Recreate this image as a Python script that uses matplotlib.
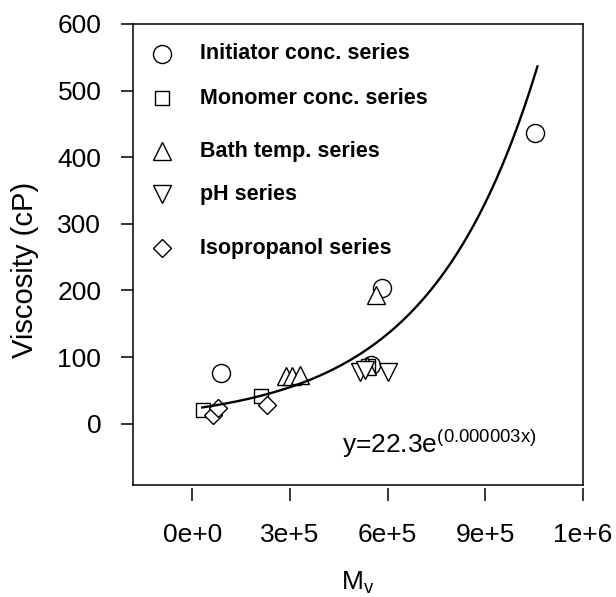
import numpy as np
import matplotlib
matplotlib.use('Agg')
import matplotlib.pyplot as plt

plt.rcParams.update({
    'font.family': ['Liberation Sans', 'DejaVu Sans'],
    'mathtext.fontset': 'custom',
    'mathtext.rm': 'Liberation Sans',
})

# ── data ──
init_x = [8.8e4, 5.5e5, 5.82e5, 1.052e6]
init_y = [76, 88, 203, 436]
mono_x = [3.3e4, 2.1e5, 5.4e5]
mono_y = [21, 41, 86]
bath_x = [2.88e5, 3.05e5, 3.32e5, 5.35e5, 5.63e5]
bath_y = [71, 72, 73, 86, 193]
ph_x = [5.15e5, 5.3e5, 6.0e5]
ph_y = [78, 81, 78]
iso_x = [6.2e4, 7.8e4, 2.28e5]
iso_y = [13, 24, 28]

# exponential fit shown on the chart
FIT_A, FIT_B = 22.3, 0.000003
FIT_RANGE = (3e4, 1.06e6)

series = [
    ('Initiator conc. series', init_x, init_y, 'o', 13),
    ('Monomer conc. series', mono_x, mono_y, 's', 10.5),
    ('Bath temp. series', bath_x, bath_y, '^', 13),
    ('pH series', ph_x, ph_y, 'v', 13),
    ('Isopropanol series', iso_x, iso_y, 'D', 9.5),
]
legend_rows = [0.935, 0.839, 0.724, 0.631, 0.514]

xticks = [0, 3e5, 6e5, 9e5, 1.2e6]
xticklabels = ['0e+0', '3e+5', '6e+5', '9e+5', '1e+6']
yticks = [0, 100, 200, 300, 400, 500, 600]

fig = plt.figure(figsize=(6.16, 5.97), dpi=100)
ax = fig.add_axes([0.2164, 0.1876, 0.7300, 0.7722])

for label, xs, ys, mk, ms in series:
    ax.plot(xs, ys, linestyle='none', marker=mk, markersize=ms,
            markerfacecolor='white', markeredgecolor='black',
            markeredgewidth=1.0, zorder=3)

xf = np.linspace(*FIT_RANGE, 300)
ax.plot(xf, FIT_A * np.exp(FIT_B * xf), color='black', lw=1.7, zorder=4)

# hand-placed legend (uneven row spacing in the original)
for (label, _, _, mk, ms), yr in zip(series, legend_rows):
    ax.plot([0.063], [yr], transform=ax.transAxes, linestyle='none',
            marker=mk, markersize=ms, markerfacecolor='white',
            markeredgecolor='black', markeredgewidth=1.0, clip_on=False)
    ax.text(0.1485, yr, label, transform=ax.transAxes, fontsize=15.5,
            fontweight='bold', va='center', ha='left')

ax.text(0.465, 0.069, r'y=22.3e$^{\mathregular{(0.000003x)}}$',
        transform=ax.transAxes, fontsize=19, va='baseline', ha='left')

ax.set_xlim(-1.815e5, 1.2e6)
ax.set_ylim(-92, 600)
ax.set_xticks(xticks)
ax.set_xticklabels(xticklabels)
ax.set_yticks(yticks)

for sp in ax.spines.values():
    sp.set_linewidth(1.1)
# x ticks hang slightly below the frame
ax.spines['bottom'].set_position(('outward', 2.5))
ax.spines['bottom'].set_visible(False)
ax.plot([0, 1], [0, 0], transform=ax.transAxes, color='black', lw=1.1,
        clip_on=False, solid_capstyle='projecting')

ax.tick_params(axis='both', direction='out', length=9, width=1.1,
               labelsize=19)
ax.tick_params(axis='x', pad=15.5)
ax.tick_params(axis='y', pad=14)

fig.text(25 / 616, 1 - 270 / 597, 'Viscosity (cP)', rotation=90,
         fontsize=21, ha='center', va='center')
fig.text(358 / 616, 1 - 583 / 597, r'M$_\mathregular{v}$', fontsize=19,
         ha='center', va='center')

fig.savefig('out.png', dpi=100, facecolor='white')
